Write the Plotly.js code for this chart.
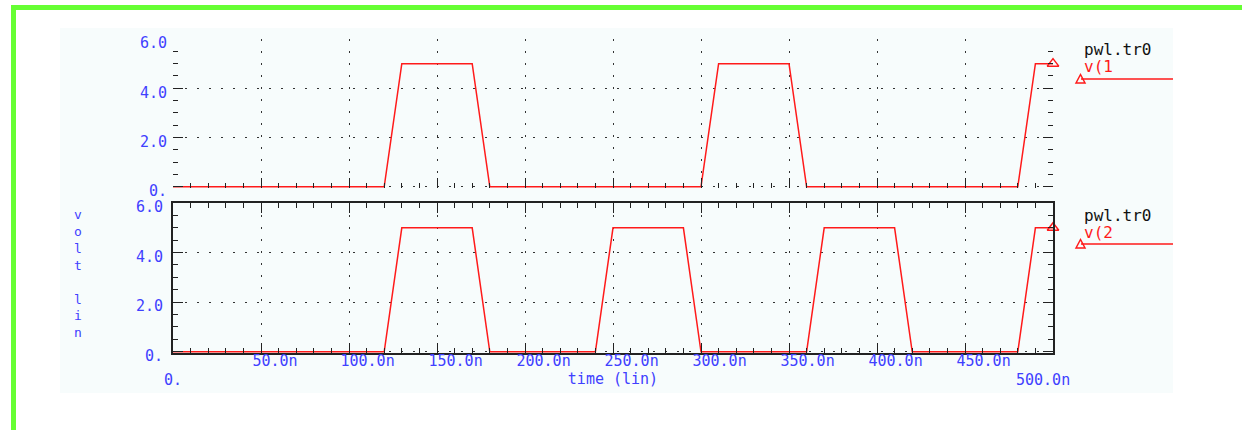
<!DOCTYPE html>
<html>
<head>
<meta charset="utf-8">
<script src="https://cdn.plot.ly/plotly-3.0.1.min.js"></script>
<style>html,body{margin:0;padding:0;background:#fff;}#chart{width:1242px;height:430px;}</style>
</head>
<body>
<div id="chart"></div>
<script>
// ---- data (time in ns, voltage in V) ----
const timeV1 = [0, 120, 130, 170, 180, 300, 310, 350, 360, 480, 490, 500];
const voltV1 = [0, 0, 5, 5, 0, 0, 5, 5, 0, 0, 5, 5];
const timeV2 = [0, 120, 130, 170, 180, 240, 250, 290, 300, 360, 370, 410, 420, 480, 490, 500];
const voltV2 = [0, 0, 5, 5, 0, 0, 5, 5, 0, 0, 5, 5, 0, 0, 5, 5];
const xTickVals = [50, 100, 150, 200, 250, 300, 350, 400, 450];
const xTickText = ["50.0n", "100.0n", "150.0n", "200.0n", "250.0n", "300.0n", "350.0n", "400.0n", "450.0n"];
const yTickVals = [0, 2, 4, 6];
const yTickText = ["0.", "2.0", "4.0", "6.0"];
const xEndLabels = ["0.", "500.0n"];
const legendFile = "pwl.tr0";
const seriesNames = ["v(1", "v(2"];

// ---- styling ----
const FONT = "DejaVu Sans Mono";
const BLUE = "#4040ff";
const RED = "#ff1a1a";
const TICK = "#222222";
const BG = "#f7fcfc";
const GREEN = "#66ff33";
const FS = 15;

// pixel -> paper helpers (layout decoration only)
const X0 = 173, PW = 880, Y0 = 353, PH = 314;
const px = x => (x - X0) / PW;
const py = y => (Y0 - y) / PH;

const last = a => a[a.length - 1];

const traces = [
  {x: timeV1, y: voltV1, xaxis: "x", yaxis: "y", mode: "lines",
   line: {color: RED, width: 1.5}, hoverinfo: "skip", showlegend: false},
  {x: [last(timeV1)], y: [last(voltV1)], xaxis: "x", yaxis: "y", mode: "markers",
   marker: {symbol: "triangle-up-open", size: 10, color: RED, line: {color: RED, width: 1.5}},
   cliponaxis: false, showlegend: false, hoverinfo: "skip"},
  {x: timeV2, y: voltV2, xaxis: "x2", yaxis: "y2", mode: "lines",
   line: {color: RED, width: 1.5}, hoverinfo: "skip", showlegend: false},
  {x: [last(timeV2)], y: [last(voltV2)], xaxis: "x2", yaxis: "y2", mode: "markers",
   marker: {symbol: "triangle-up-open", size: 10, color: RED, line: {color: RED, width: 1.5}},
   cliponaxis: false, showlegend: false, hoverinfo: "skip"}
];

const tickFont = {family: FONT, size: FS, color: BLUE};
const xMinor = {tickmode: "linear", tick0: 0, dtick: 10, ticks: "inside", ticklen: 5, tickcolor: TICK, tickwidth: 1, showgrid: false};
const yMinor = {tickmode: "linear", tick0: 0, dtick: 0.5, ticks: "inside", ticklen: 5, tickcolor: TICK, tickwidth: 1, showgrid: false};

const baseX = {
  range: [0, 500], tickmode: "array", tickvals: xTickVals, ticktext: xTickText,
  ticks: "inside", ticklen: 10, tickcolor: TICK, tickwidth: 1,
  showgrid: true, gridcolor: "#333333", gridwidth: 1, griddash: "1.5px,10.5px",
  zeroline: false, fixedrange: true, minor: xMinor
};
const baseY = {
  range: [-0.05, 6], tickmode: "array", tickvals: yTickVals, ticktext: yTickText,
  ticks: "inside", ticklen: 10, tickcolor: TICK, tickwidth: 1,
  showgrid: true, gridcolor: "#333333", gridwidth: 1, griddash: "1.5px,10.5px",
  zeroline: false, fixedrange: true, minor: yMinor,
  tickfont: tickFont, ticklabelstandoff: 5, ticklabelshift: 4
};

const layout = {
  width: 1242, height: 430,
  margin: {l: X0, r: 1242 - X0 - PW, t: 39, b: 430 - Y0, pad: 0},
  paper_bgcolor: "#ffffff", plot_bgcolor: BG,
  showlegend: false,
  xaxis: Object.assign({}, baseX, {anchor: "y", showticklabels: false, showline: false}),
  yaxis: Object.assign({}, baseY, {anchor: "x", domain: [py(188), 1], showline: false, mirror: "ticks"}),
  xaxis2: Object.assign({}, baseX, {anchor: "y2", matches: "x", showline: true, linecolor: TICK, linewidth: 2, mirror: "ticks",
    tickfont: tickFont, ticklabelposition: "outside right", ticklabelshift: -10, ticklabelstandoff: -7,
    title: {text: "time (lin)", font: {family: FONT, size: FS, color: BLUE}, standoff: 1}}),
  yaxis2: Object.assign({}, baseY, {anchor: "x2", domain: [0, py(203)], showline: true, linecolor: TICK, linewidth: 2, mirror: "ticks"}),
  shapes: [
    // faint panel background
    {type: "rect", xref: "paper", yref: "paper", x0: px(60), x1: px(1173), y0: py(393), y1: py(28),
     fillcolor: BG, line: {width: 0}, layer: "below"},
    // green frame
    {type: "rect", xref: "paper", yref: "paper", x0: px(11), x1: px(1242), y0: py(10), y1: py(5),
     fillcolor: GREEN, line: {width: 0}},
    {type: "rect", xref: "paper", yref: "paper", x0: px(11), x1: px(16), y0: py(430), y1: py(5),
     fillcolor: GREEN, line: {width: 0}},
    // legend lines + triangles
    {type: "line", xref: "paper", yref: "paper", x0: px(1081), x1: px(1173), y0: py(79), y1: py(79),
     line: {color: RED, width: 1.5}},
    {type: "path", xref: "paper", yref: "paper",
     path: `M ${px(1076)} ${py(83)} L ${px(1080.5)} ${py(74.5)} L ${px(1085)} ${py(83)} Z`,
     line: {color: RED, width: 1.5}, fillcolor: "rgba(0,0,0,0)"},
    {type: "line", xref: "paper", yref: "paper", x0: px(1081), x1: px(1173), y0: py(244), y1: py(244),
     line: {color: RED, width: 1.5}},
    {type: "path", xref: "paper", yref: "paper",
     path: `M ${px(1076)} ${py(248)} L ${px(1080.5)} ${py(239.5)} L ${px(1085)} ${py(248)} Z`,
     line: {color: RED, width: 1.5}, fillcolor: "rgba(0,0,0,0)"}
  ],
  annotations: [
    {xref: "paper", yref: "paper", x: px(1082), y: py(49), xanchor: "left", yanchor: "middle", showarrow: false,
     text: legendFile, font: {family: FONT, size: 16, color: "#111111"}},
    {xref: "paper", yref: "paper", x: px(1082), y: py(66), xanchor: "left", yanchor: "middle", showarrow: false,
     text: seriesNames[0], font: {family: FONT, size: 16, color: RED}},
    {xref: "paper", yref: "paper", x: px(1082), y: py(215), xanchor: "left", yanchor: "middle", showarrow: false,
     text: legendFile, font: {family: FONT, size: 16, color: "#111111"}},
    {xref: "paper", yref: "paper", x: px(1082), y: py(232), xanchor: "left", yanchor: "middle", showarrow: false,
     text: seriesNames[1], font: {family: FONT, size: 16, color: RED}},
    // y title, stacked letters
    {xref: "paper", yref: "paper", x: px(78), y: py(273), xanchor: "center", yanchor: "middle", showarrow: false,
     text: "v<br>o<br>l<br>t<br> <br>l<br>i<br>n", font: {family: FONT, size: 13, color: BLUE}},
    // end labels on second row
    {xref: "x2", yref: "paper", x: 0, y: py(380), xanchor: "left", yanchor: "middle", xshift: -11, showarrow: false,
     text: xEndLabels[0], font: tickFont},
    {xref: "x2", yref: "paper", x: 500, y: py(380), xanchor: "left", yanchor: "middle", xshift: -39, showarrow: false,
     text: xEndLabels[1], font: tickFont}
  ]
};

Plotly.newPlot("chart", traces, layout, {displayModeBar: false, staticPlot: true});
</script>
</body>
</html>
